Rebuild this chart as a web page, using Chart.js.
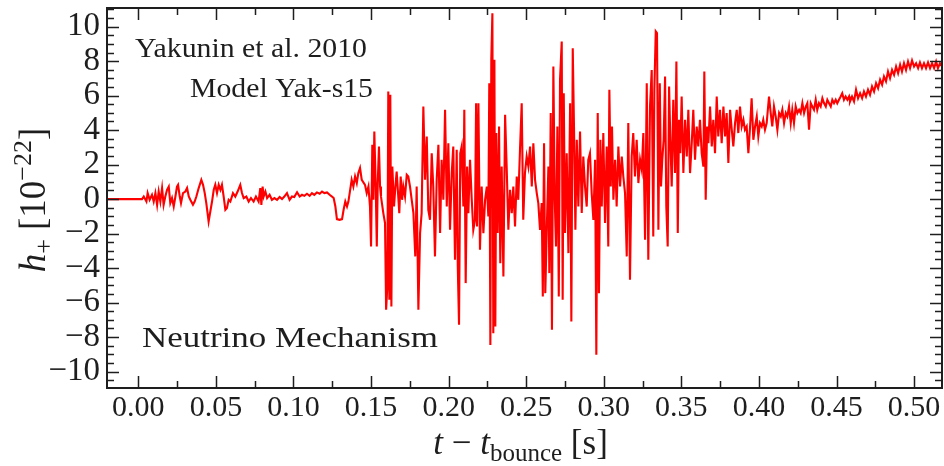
<!DOCTYPE html>
<html>
<head>
<meta charset="utf-8">
<script src="https://cdn.jsdelivr.net/npm/chart.js@4.4.1/dist/chart.umd.min.js"></script>
<style>
  html, body { margin: 0; padding: 0; background: #ffffff; }
  #wrap { width: 944px; height: 466px; position: relative; }
</style>
</head>
<body>
<div id="wrap"><canvas id="c" width="944" height="466"></canvas></div>
<script>
// Gravitational-wave strain h+ (units of 1e-22) versus time after bounce (s),
// model Yak-s15 (Yakunin et al. 2010), neutrino-driven explosion.

// Quiet stretch before the signal starts
const tPre = [-0.0202, 0.0024];
const hPre = [0, 0];

// Early low-amplitude ringing (0.00 - 0.135 s)
const tEarly = [0.0035,0.0052,0.0060,0.0073,0.0088,0.0099,0.0110,0.0121,0.0131,0.0142,
  0.0153,0.0163,0.0174,0.0185,0.0196,0.0206,0.0217,0.0228,0.0239,0.0249,
  0.0256,0.0267,0.0275,0.0288,0.0303,0.0314,0.0325,0.0335,0.0352,0.0363,
  0.0374,0.0389,0.0406,0.0417,0.0428,0.0438,0.0453,0.0464,0.0475,0.0486,
  0.0496,0.0507,0.0518,0.0529,0.0539,0.0550,0.0561,0.0571,0.0582,0.0593,
  0.0610,0.0625,0.0640,0.0657,0.0668,0.0679,0.0696,0.0711,0.0726,0.0743,
  0.0758,0.0775,0.0786,0.0793,0.0801,0.0808,0.0819,0.0830,0.0846,0.0861,
  0.0877,0.0894,0.0911,0.0926,0.0941,0.0958,0.0975,0.0990,0.1005,0.1023,
  0.1040,0.1055,0.1070,0.1087,0.1104,0.1119,0.1134,0.1151,0.1169,0.1184,
  0.1199,0.1216,0.1233,0.1248,0.1259,0.1270,0.1280,0.1297,0.1313,0.1323,
  0.1334,0.1345];
const hEarly = [0.15,-0.14,0.35,-0.04,0.25,-0.14,0.35,-0.33,0.44,-0.14,
  0.64,-0.33,0.15,0.54,0.73,-0.23,0.06,-0.43,0.15,0.73,
  0.83,0.15,-0.23,0.35,0.44,0.64,0.15,-0.04,-0.33,-0.14,
  0.15,0.64,1.12,0.83,0.35,-0.23,-1.30,-0.72,-0.14,0.54,
  0.83,0.35,0.83,0.54,0.83,0.15,-0.62,-0.52,-0.04,-0.14,
  0.35,0.15,0.44,0.83,0.35,0.06,0.15,-0.14,0.06,-0.14,
  0.15,-0.14,0.64,-0.33,0.73,0.15,0.44,0.06,0.25,-0.04,
  0.06,-0.04,0.12,0.00,0.15,0.35,-0.04,0.15,0.12,0.40,
  0.15,0.25,0.19,0.31,0.19,0.35,0.25,0.39,0.31,0.44,
  0.35,0.39,0.25,0.15,0.06,-0.43,-1.16,-1.20,-1.16,-0.62,
  -0.14,-0.43];

// Onset of strong convection (0.135 - 0.186 s)
const tBurst1 = [0.1354,0.1375,0.1386,0.1397,0.1408,0.1418,0.1429,0.1440,0.1461,0.1472,
  0.1483,0.1493,0.1500,0.1508,0.1515,0.1521,0.1530,0.1537,0.1543,0.1551,
  0.1558,0.1564,0.1579,0.1590,0.1597,0.1605,0.1611,0.1618,0.1624,0.1631,
  0.1637,0.1648,0.1657,0.1665,0.1674,0.1682,0.1691,0.1700,0.1708,0.1719,
  0.1730,0.1740,0.1751,0.1762,0.1773,0.1785,0.1794,0.1805,0.1816,0.1826,
  0.1837,0.1848,0.1859];
const hBurst1 = [-0.14,1.12,0.73,1.31,0.93,1.51,1.80,1.12,0.83,0.35,
  0.73,-0.43,-2.75,3.15,-0.04,3.92,0.73,-2.75,0.93,3.05,
  0.73,0.15,-0.81,-1.39,-6.41,-5.06,6.24,-5.84,6.05,-6.22,
  1.89,-0.43,0.73,1.60,0.35,-0.81,1.31,-0.04,0.73,0.15,
  1.41,1.31,0.73,-0.04,-0.81,-3.32,0.73,-6.41,-1.97,-0.81,
  5.37,1.12,3.63];

// Strongest activity (0.186 - 0.256 s)
const tBurst2 = [0.1869,0.1880,0.1891,0.1901,0.1912,0.1923,0.1934,0.1945,0.1955,0.1966,
  0.1977,0.1988,0.1998,0.2009,0.2020,0.2030,0.2041,0.2052,0.2059,0.2067,
  0.2075,0.2084,0.2095,0.2101,0.2110,0.2119,0.2127,0.2138,0.2149,0.2159,
  0.2170,0.2177,0.2183,0.2192,0.2202,0.2213,0.2224,0.2235,0.2246,0.2256,
  0.2262,0.2269,0.2275,0.2282,0.2288,0.2295,0.2301,0.2307,0.2316,0.2325,
  0.2333,0.2342,0.2353,0.2364,0.2374,0.2385,0.2396,0.2407,0.2417,0.2428,
  0.2439,0.2449,0.2460,0.2471,0.2481,0.2492,0.2503,0.2514,0.2525,0.2536,
  0.2546,0.2557];
const hBurst2 = [-0.62,-1.20,2.66,0.73,-3.32,1.12,3.15,-1.97,2.28,-0.04,
  5.18,-0.43,3.24,-1.78,1.51,3.05,-3.52,2.86,-3.90,-7.28,
  2.66,3.05,-0.43,5.18,-4.87,1.89,-0.81,2.28,-0.04,-1.78,
  -1.20,5.56,-1.59,5.56,-2.94,0.73,-1.97,-0.04,0.73,-1.01,
  6.72,-8.45,8.08,10.78,-7.77,8.08,-7.38,3.83,-1.97,4.21,
  -3.71,1.89,-4.49,4.89,1.89,-1.78,0.54,-0.81,0.73,-1.59,
  1.31,-0.04,2.86,5.56,-1.20,1.51,2.47,1.89,3.05,0.73,
  3.24,1.12];

// Second strong episode (0.256 - 0.324 s)
const tBurst3 = [0.2568,0.2578,0.2589,0.2600,0.2607,0.2615,0.2623,0.2632,0.2643,0.2649,
  0.2658,0.2666,0.2675,0.2684,0.2692,0.2701,0.2710,0.2718,0.2729,0.2735,
  0.2742,0.2750,0.2761,0.2772,0.2783,0.2791,0.2800,0.2808,0.2817,0.2826,
  0.2836,0.2847,0.2858,0.2868,0.2879,0.2890,0.2900,0.2911,0.2922,0.2933,
  0.2944,0.2952,0.2961,0.2969,0.2978,0.2987,0.2997,0.3008,0.3019,0.3029,
  0.3036,0.3045,0.3053,0.3062,0.3073,0.3083,0.3094,0.3105,0.3116,0.3126,
  0.3137,0.3148,0.3158,0.3169,0.3180,0.3190,0.3201,0.3212,0.3223,0.3234];
const hBurst3 = [0.35,-0.23,-1.78,-0.23,-5.64,3.24,-5.45,-1.97,1.89,-4.29,
  4.99,-7.57,7.69,-0.04,-2.75,4.21,-5.64,6.92,9.14,-5.84,
  6.14,-1.97,2.66,-3.13,5.56,-7.09,8.75,4.21,-1.78,3.44,
  -0.43,3.92,-0.81,2.47,0.73,-0.43,2.28,2.66,0.35,-1.20,
  2.28,-9.02,4.99,-5.45,3.44,-0.43,3.83,-1.39,3.05,-2.75,
  6.34,0.73,4.21,-0.04,2.28,-0.43,3.05,0.73,2.47,1.31,
  0.35,-3.32,4.41,-4.68,2.47,3.83,1.31,3.44,0.93,2.28];

// Third episode, drifting upward (0.324 - 0.391 s)
const tBurst4 = [0.3245,0.3255,0.3266,0.3277,0.3287,0.3298,0.3309,0.3319,0.3326,0.3335,
  0.3343,0.3352,0.3361,0.3369,0.3377,0.3386,0.3395,0.3403,0.3412,0.3421,
  0.3429,0.3438,0.3448,0.3459,0.3468,0.3477,0.3485,0.3493,0.3502,0.3513,
  0.3524,0.3535,0.3545,0.3556,0.3567,0.3577,0.3588,0.3599,0.3609,0.3620,
  0.3631,0.3642,0.3648,0.3657,0.3666,0.3674,0.3685,0.3696,0.3706,0.3717,
  0.3728,0.3738,0.3749,0.3760,0.3771,0.3782,0.3792,0.3803,0.3814,0.3825,
  0.3835,0.3846,0.3857,0.3867,0.3878,0.3889,0.3900,0.3910];
const hBurst4 = [1.70,3.83,-2.36,6.72,-3.52,5.37,7.49,-2.16,6.34,9.72,
  9.62,-1.78,6.72,0.73,2.28,3.44,7.11,-0.43,-2.75,6.53,
  3.44,0.73,5.76,1.51,7.98,-1.97,4.60,2.66,5.95,1.51,
  4.60,2.47,5.18,1.51,3.24,5.18,2.28,4.21,3.05,4.60,
  2.66,1.89,7.40,-0.04,4.21,3.24,5.37,3.05,4.60,2.66,
  5.95,3.63,5.18,3.24,5.37,3.63,4.99,2.09,5.18,4.02,
  3.05,4.41,5.18,3.83,5.37,4.21,4.60,4.02];

// Slow rise of the memory offset (0.392 - 0.458 s)
const tLate = [0.3921,0.3932,0.3943,0.3953,0.3964,0.3975,0.3986,0.3996,0.4007,0.4018,
  0.4028,0.4039,0.4050,0.4065,0.4076,0.4086,0.4097,0.4108,0.4119,0.4130,
  0.4141,0.4151,0.4162,0.4173,0.4183,0.4194,0.4205,0.4215,0.4226,0.4237,
  0.4248,0.4259,0.4269,0.4280,0.4291,0.4302,0.4312,0.4323,0.4334,0.4344,
  0.4355,0.4366,0.4376,0.4387,0.4398,0.4409,0.4420,0.4431,0.4441,0.4452,
  0.4463,0.4473,0.4484,0.4495,0.4505,0.4516,0.4527,0.4537,0.4548,0.4559,
  0.4570,0.4581];
const hLate = [4.21,2.66,4.21,5.85,3.44,4.21,4.79,3.63,4.41,4.21,
  4.60,4.02,4.41,5.95,4.99,4.21,5.37,4.79,4.02,4.99,
  4.79,5.18,4.41,4.99,4.79,5.37,4.41,5.18,4.41,5.37,
  4.99,5.18,4.99,5.56,4.99,5.37,5.56,4.02,5.56,5.37,
  5.18,5.76,5.18,5.56,5.37,5.85,5.56,5.37,5.76,5.56,
  5.37,5.76,5.56,5.76,5.56,5.76,5.95,6.14,5.76,5.95,
  5.76,5.95];

// Final ramp and plateau (0.459 - 0.518 s)
const tTail = [0.4587,0.4600,0.4613,0.4626,0.4639,0.4652,0.4665,0.4677,0.4690,0.4703,
  0.4716,0.4729,0.4742,0.4755,0.4768,0.4781,0.4794,0.4806,0.4819,0.4832,
  0.4845,0.4858,0.4871,0.4884,0.4897,0.4910,0.4922,0.4935,0.4948,0.4961,
  0.4974,0.4987,0.5000,0.5013,0.5026,0.5038,0.5051,0.5064,0.5077,0.5090,
  0.5103,0.5116,0.5129,0.5142,0.5154,0.5167,0.5180];
const hTail = [5.66,5.95,5.66,6.34,5.85,6.14,5.85,6.24,5.95,6.34,
  6.05,6.53,6.24,6.72,6.43,6.92,6.63,7.11,6.82,7.40,
  7.01,7.49,7.20,7.69,7.30,7.79,7.40,7.88,7.49,7.98,
  7.59,8.04,7.69,7.88,7.59,7.92,7.59,7.88,7.59,7.92,
  7.59,7.88,7.59,7.98,7.59,7.88,7.69];

// Axis ticks
const xMajorTicks = [0.00,0.05,0.10,0.15,0.20,0.25,0.30,0.35,0.40,0.45,0.50];
const xMinorTicks = [0.025,0.075,0.125,0.175,0.225,0.275,0.325,0.375,0.425,0.475];
const yMajorTicks = [-10,-8,-6,-4,-2,0,2,4,6,8,10];

// Annotation texts
const noteRef = 'Yakunin et al. 2010';
const noteModel = 'Model Yak-s15';
const noteMech = 'Neutrino Mechanism';

const X_MIN = -0.0202, X_MAX = 0.518;
const Y_MIN = -10.95, Y_MAX = 11.08;
const INK = '#1e1e1e';
const SERIF = '"Liberation Serif", "Times New Roman", serif';

// y minor ticks every 0.5 between the labelled ones
const yMinorTicks = [];
for (let v = -10.5; v <= 11; v += 0.5) {
  if (Math.abs(v / 2 - Math.round(v / 2)) > 1e-9) yMinorTicks.push(v);
}

const segments = [[tPre, hPre], [tEarly, hEarly], [tBurst1, hBurst1], [tBurst2, hBurst2],
  [tBurst3, hBurst3], [tBurst4, hBurst4], [tLate, hLate], [tTail, hTail]];
const strain = [];
segments.forEach(([ts, hs]) => {
  const n = Math.min(ts.length, hs.length);
  for (let i = 0; i < n; i++) strain.push({ x: ts[i], y: hs[i] });
});

// Boxed frame with inward ticks on all four sides
const frameTicks = {
  id: 'frameTicks',
  afterDatasetsDraw(chart) {
    const { ctx, chartArea: a, scales: { x, y } } = chart;
    ctx.save();
    ctx.strokeStyle = INK;
    ctx.lineWidth = 1.5;
    ctx.beginPath();
    const xt = (v, len) => {
      const p = Math.round(x.getPixelForValue(v)) + 0.5;
      ctx.moveTo(p, a.bottom); ctx.lineTo(p, a.bottom - len);
      ctx.moveTo(p, a.top); ctx.lineTo(p, a.top + len);
    };
    const yt = (v, len) => {
      const p = Math.round(y.getPixelForValue(v)) + 0.5;
      ctx.moveTo(a.left, p); ctx.lineTo(a.left + len, p);
      ctx.moveTo(a.right, p); ctx.lineTo(a.right - len, p);
    };
    xMajorTicks.forEach(v => xt(v, 12));
    xMinorTicks.forEach(v => xt(v, 7));
    yMajorTicks.forEach(v => yt(v, 12));
    yMinorTicks.forEach(v => yt(v, 7));
    ctx.stroke();
    ctx.lineWidth = 2;
    ctx.strokeRect(a.left, a.top, a.right - a.left, a.bottom - a.top);
    ctx.restore();
  }
};

// Draws a run of text pieces (with sub/superscripts) starting at 0,0 of the current transform
function drawRuns(ctx, runs, align) {
  let total = 0;
  runs.forEach(r => {
    ctx.font = `${r.italic ? 'italic ' : ''}${r.size}px ${SERIF}`;
    r.w = ctx.measureText(r.text).width;
    total += r.w;
  });
  let cx = align === 'center' ? -total / 2 : 0;
  runs.forEach(r => {
    ctx.font = `${r.italic ? 'italic ' : ''}${r.size}px ${SERIF}`;
    ctx.fillText(r.text, cx, r.dy || 0);
    cx += r.w;
  });
}

function drawFitted(ctx, text, left, baseline, size, width) {
  ctx.font = `${size}px ${SERIF}`;
  const w = ctx.measureText(text).width;
  ctx.save();
  ctx.translate(left, baseline);
  ctx.scale(width / w, 1);
  ctx.fillText(text, 0, 0);
  ctx.restore();
}

const labelsPlugin = {
  id: 'labelsPlugin',
  afterDraw(chart) {
    const { ctx, chartArea: a } = chart;
    ctx.save();
    ctx.fillStyle = INK;
    ctx.textAlign = 'left';
    ctx.textBaseline = 'alphabetic';

    // x-axis title: t - t_bounce [s]
    ctx.save();
    ctx.translate((a.left + a.right) / 2 - 4, 454);
    drawRuns(ctx, [
      { text: 't', size: 35, italic: true },
      { text: ' \u2212 ', size: 35 },
      { text: 't', size: 35, italic: true },
      { text: 'bounce', size: 25, dy: 7 },
      { text: ' [s]', size: 35 }
    ], 'center');
    ctx.restore();

    // y-axis title: h_+ [10^-22]
    ctx.save();
    ctx.translate(45, (a.top + a.bottom) / 2 + 2);
    ctx.rotate(-Math.PI / 2);
    drawRuns(ctx, [
      { text: 'h', size: 37, italic: true },
      { text: '+', size: 26, dy: 7 },
      { text: ' [10', size: 37 },
      { text: '\u221222', size: 26, dy: -14 },
      { text: ']', size: 37 }
    ], 'center');
    ctx.restore();

    // annotations
    drawFitted(ctx, noteRef, 135, 57, 28, 232);
    drawFitted(ctx, noteModel, 190, 97, 28, 183);
    drawFitted(ctx, noteMech, 142, 347, 30, 296);
    ctx.restore();
  }
};

new Chart(document.getElementById('c').getContext('2d'), {
  type: 'line',
  data: {
    datasets: [{
      data: strain,
      borderColor: '#ff0000',
      borderWidth: 2.1,
      pointRadius: 0,
      tension: 0,
      fill: false
    }]
  },
  options: {
    responsive: false,
    animation: false,
    events: [],
    layout: { padding: { top: 8, right: 2, left: 0, bottom: 0 } },
    plugins: { legend: { display: false }, tooltip: { enabled: false } },
    scales: {
      x: {
        type: 'linear',
        min: X_MIN,
        max: X_MAX,
        grid: { display: false, drawTicks: false },
        border: { display: false },
        afterBuildTicks: s => { s.ticks = xMajorTicks.map(v => ({ value: v })); },
        afterFit: s => { s.height = 78; s.paddingLeft = 0; s.paddingRight = 0; },
        ticks: {
          padding: 2,
          color: INK,
          maxRotation: 0,
          autoSkip: false,
          font: { family: SERIF, size: 30 },
          callback: v => Number(v).toFixed(2)
        }
      },
      y: {
        type: 'linear',
        min: Y_MIN,
        max: Y_MAX,
        grid: { display: false, drawTicks: false },
        border: { display: false },
        afterBuildTicks: s => { s.ticks = yMajorTicks.map(v => ({ value: v })); },
        afterFit: s => { s.width = 107; s.paddingTop = 0; s.paddingBottom = 0; },
        ticks: {
          padding: 7,
          color: INK,
          autoSkip: false,
          font: { family: SERIF, size: 33 },
          callback: v => (v < 0 ? '\u2212' : '') + Math.abs(v)
        }
      }
    }
  },
  plugins: [frameTicks, labelsPlugin]
});
</script>
</body>
</html>
